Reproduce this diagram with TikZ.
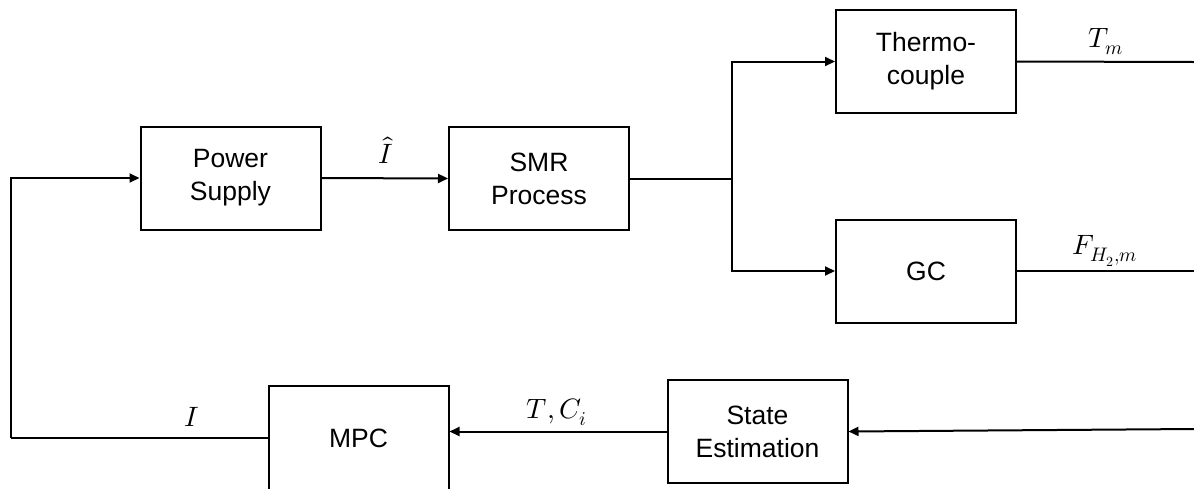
\documentclass[tikz,border=0pt]{standalone}
\usepackage{fontspec}
\usepackage{unicode-math}
\setmainfont{Liberation Sans}
\setmathfont{Latin Modern Math}
\usetikzlibrary{arrows.meta,calc}
\begin{document}
\begin{tikzpicture}[x=1pt,y=-1pt,
  blockbox/.style={draw,line width=2pt,minimum width=180pt,minimum height=103pt,
    align=center,font=\fontsize{26.5}{33}\selectfont,inner sep=0pt},
  wire/.style={line width=2pt},
  flow/.style={wire,-{Triangle[length=10pt,width=9pt]}},
  siglabel/.style={font=\fontsize{28}{32}\selectfont,inner sep=0pt}]
\useasboundingbox (0,0) rectangle (1194,488);
\clip (0,0) rectangle (1194,488);

% blocks
\node[blockbox] (ps)  at (230.5,178)  {Power\\Supply};
\node[blockbox] (smr) at (539,178.5)  {SMR\\Process};
\node[blockbox] (tc)  at (926,61.5)   {Thermo-\\couple};
\node[blockbox] (gc)  at (926,271)    {GC};
\node[blockbox] (se)  at (757.5,431.5){State\\Estimation};
\node[blockbox,minimum height=105pt] (mpc) at (358.5,438.5){MPC};

% free ends and corners
\coordinate (split) at (732,178.5);
\coordinate (tmout) at (1194,62);
\coordinate (fout)  at (1194,271);
\coordinate (meas)  at (1194,429);
\coordinate (back)  at (11,437.5);

% forward path
\draw[flow] (ps.east) -- (smr.west);
\draw[wire] (smr.east) -- (split);
\draw[flow] (split) |- (tc.west);
\draw[flow] (split) |- (gc.west);
\draw[wire] (tc.east) -- (tmout);
\draw[wire] (gc.east) -- (fout);

% feedback path
\draw[flow] (meas) -- (se.east);
\draw[flow] (se.west) -- (se.west -| mpc.east);
\draw[wire] (mpc.west |- back) -- (back);
\draw[flow] (back) |- (ps.west);

% signal labels
\node[siglabel] (lI)  at (386,150)  {$\hat{I}$};
\node[siglabel] (lTm) at (1106,42)  {$T_m$};
\node[siglabel] (lF)  at (1105,251) {$F_{H_2,m}$};
\node[siglabel] (lTC) at (557,412)  {$T,C_i$};
\node[siglabel] (lI2) at (192,417)  {$I$};
\end{tikzpicture}
\end{document}
